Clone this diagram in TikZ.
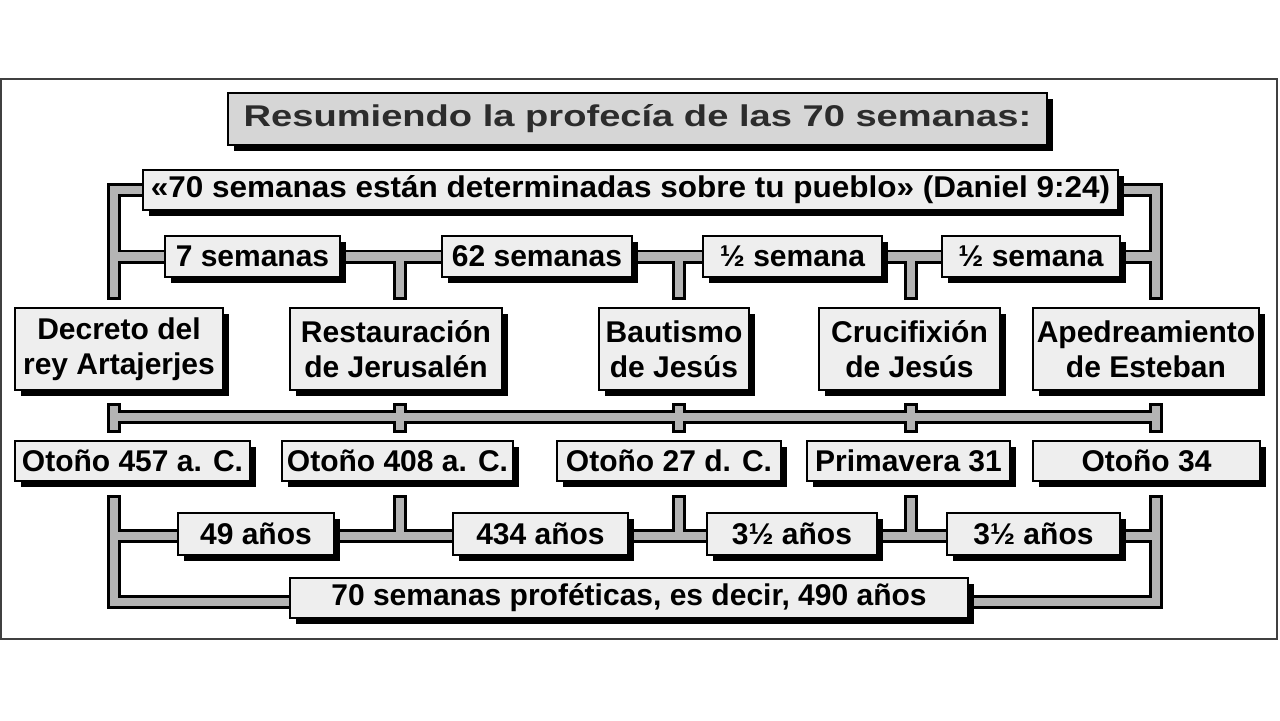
\documentclass[tikz,border=0pt]{standalone}
\usepackage{fontspec}
\setmainfont{Liberation Sans}
\newfontfamily\titlefont[FakeStretch=1.27]{Liberation Sans Bold}
\newfontfamily\widefont[FakeStretch=1.05]{Liberation Sans}
\usetikzlibrary{shadows}
\definecolor{boxfill}{HTML}{EEEEEE}
\definecolor{titlefill}{HTML}{D6D6D6}
\definecolor{pipegray}{HTML}{B4B4B4}
\definecolor{titletext}{HTML}{2C2C2C}
\pgfdeclarelayer{paper}
\pgfdeclarelayer{pipeblack}
\pgfdeclarelayer{pipegrey}
\pgfsetlayers{paper,pipeblack,pipegrey,main}
\tikzset{
  boxnode/.style={draw=black, line width=0.9pt, fill=boxfill, inner sep=0pt,
    align=center, font=\bfseries\fontsize{15}{17.5}\selectfont,
    general shadow={fill=black, shadow xshift=3pt, shadow yshift=-3pt}},
  titlenode/.style={boxnode, fill=titlefill, text=titletext,
    font=\titlefont\fontsize{15}{17}\selectfont},
  pipeb/.style={draw=black, line width=7pt, line cap=rect, line join=miter},
  pipeg/.style={draw=pipegray, line width=4.25pt, line cap=rect, line join=miter, shift={(-2,-2)}}
}
\newcommand\pipe[1]{%
  \begin{pgfonlayer}{pipeblack}\draw[pipeb] #1;\end{pgfonlayer}%
  \begin{pgfonlayer}{pipegrey}\draw[pipeg] #1;\end{pgfonlayer}}
\begin{document}
\begin{tikzpicture}[x=0.5pt,y=-0.5pt]
\useasboundingbox (0,0) rectangle (1280,720);
\begin{pgfonlayer}{paper}
\fill[white] (0,0) rectangle (1280,720);
\draw[line width=1pt, draw=black!75] (1,79) rectangle (1277,639);
\end{pgfonlayer}

% title and quote
\node[titlenode, minimum width=409.5pt, minimum height=26pt] (title) at (637.5,119) {Resumiendo la profecía de las 70 semanas:};
\node[boxnode, minimum width=487.5pt, minimum height=20pt, font=\widefont\bfseries\fontsize{15}{17.5}\selectfont] (quote) at (630.5,190) {«70 semanas están determinadas sobre tu pueblo» (Daniel 9:24)};

% row 2
\node[boxnode, minimum width=87.5pt, minimum height=20.5pt] (w7) at (252.5,256.5) {7 semanas};
\node[boxnode, minimum width=95pt, minimum height=20.5pt] (w62) at (537,256.5) {62 semanas};
\node[boxnode, minimum width=89.5pt, minimum height=20.5pt] (h1) at (792.5,256.5) {½ semana};
\node[boxnode, minimum width=89pt, minimum height=20.5pt] (h2) at (1031,256.5) {½ semana};

% row 3
\node[boxnode, minimum width=104pt, minimum height=41pt] (dec) at (119,349) {Decreto del\\rey Artajerjes};
\node[boxnode, minimum width=106pt, minimum height=41pt] (res) at (396,349) {Restauración\\de Jerusalén};
\node[boxnode, minimum width=75pt, minimum height=41pt] (bau) at (674,349) {Bautismo\\de Jesús};
\node[boxnode, minimum width=90.5pt, minimum height=41pt] (cru) at (909.5,349) {Crucifixión\\de Jesús};
\node[boxnode, minimum width=113pt, minimum height=41pt] (ape) at (1146,349) {Apedreamiento\\de Esteban};

% row 4
\node[boxnode, minimum width=117.5pt, minimum height=20pt] (o457) at (132.5,461) {Otoño 457 a. C.};
\node[boxnode, minimum width=115.5pt, minimum height=20pt] (o408) at (397.5,461) {Otoño 408 a. C.};
\node[boxnode, minimum width=112pt, minimum height=20pt] (o27) at (669,461) {Otoño 27 d. C.};
\node[boxnode, minimum width=101.5pt, minimum height=20pt] (pri) at (908.5,461) {Primavera 31};
\node[boxnode, minimum width=113.5pt, minimum height=20pt] (o34) at (1146.5,461) {Otoño 34};

% row 5
\node[boxnode, minimum width=78pt, minimum height=21pt] (a49) at (256,534) {49 años};
\node[boxnode, minimum width=87.5pt, minimum height=21pt] (a434) at (540.5,534) {434 años};
\node[boxnode, minimum width=85pt, minimum height=21pt] (a3a) at (792,534) {3½ años};
\node[boxnode, minimum width=86.5pt, minimum height=21pt] (a3b) at (1033.5,534) {3½ años};

% bottom
\node[boxnode, minimum width=339pt, minimum height=20pt] (total) at (629,598) {70 semanas proféticas, es decir, 490 años};

% coordinates
\coordinate (k1) at (114,293); \coordinate (k2) at (400,293); \coordinate (k3) at (679,293);
\coordinate (k4) at (911,293); \coordinate (k5) at (1156,293);
\coordinate (t1) at (114,410); \coordinate (t2) at (400,410); \coordinate (t3) at (679,410);
\coordinate (t4) at (911,410); \coordinate (t5) at (1156,410);
\coordinate (u1) at (114,426); \coordinate (u2) at (400,426); \coordinate (u3) at (679,426);
\coordinate (u4) at (911,426); \coordinate (u5) at (1156,426);
\coordinate (mL) at (114,417); \coordinate (mR) at (1156,417);
\coordinate (b1) at (114,502); \coordinate (b2) at (400,502); \coordinate (b3) at (679,502);
\coordinate (b4) at (911,502); \coordinate (b5) at (1156,502);
\coordinate (r1) at (114,536); \coordinate (r5) at (1156,536);
\coordinate (q1) at (114,602); \coordinate (q5) at (1156,602);

% pipes top
\pipe{(quote.west) -| (k1)}
\pipe{(quote.east) -| (k5)}
\pipe{(k1 |- w7) -- (k5 |- w7)}
\pipe{(k2 |- w7) -- (k2)}
\pipe{(k3 |- w7) -- (k3)}
\pipe{(k4 |- w7) -- (k4)}
% middle timeline
\pipe{(mL) -- (mR)}
\pipe{(t1) -- (u1)}
\pipe{(t2) -- (u2)}
\pipe{(t3) -- (u3)}
\pipe{(t4) -- (u4)}
\pipe{(t5) -- (u5)}
% bottom pipes
\pipe{(b1) -- (q1) -- (q1 -| total.west)}
\pipe{(b5) -- (q5) -- (q5 -| total.east)}
\pipe{(r1) -- (r5)}
\pipe{(b2) -- (b2 |- r1)}
\pipe{(b3) -- (b3 |- r1)}
\pipe{(b4) -- (b4 |- r1)}
\end{tikzpicture}
\end{document}
